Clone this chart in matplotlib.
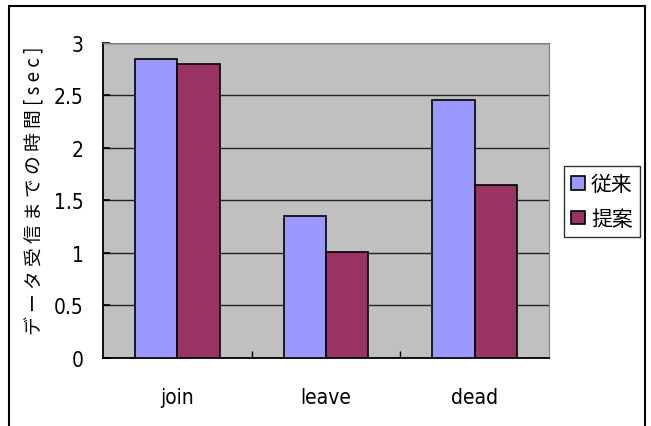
import numpy as np
import matplotlib.pyplot as plt
from matplotlib.patches import Rectangle

plt.rcParams['font.family'] = ['DejaVu Sans', 'Noto Sans CJK JP']
plt.rcParams['font.stretch'] = 'condensed'

categories = ['join', 'leave', 'dead']
conventional = [2.85, 1.35, 2.46]   # 従来
proposed = [2.80, 1.01, 1.65]       # 提案
yticks = [0, 0.5, 1, 1.5, 2, 2.5, 3]
ytick_labels = ['0', '0.5', '1', '1.5', '2', '2.5', '3']

fig = plt.figure(figsize=(6.51, 4.27), dpi=100)
ax = fig.add_axes([0.1582, 0.1593, 0.6851, 0.7377])

x = np.arange(len(categories))
w = 1 / 3.5
ax.bar(x - w / 2, conventional, w, color='#9999FF', edgecolor='black', linewidth=1.2, label='従来', zorder=3)
ax.bar(x + w / 2, proposed, w, color='#993366', edgecolor='black', linewidth=1.2, label='提案', zorder=3)

ax.set_facecolor('#C0C0C0')
ax.set_xlim(-0.5, 2.5)
ax.set_ylim(0, 3)
ax.set_yticks(yticks)
ax.set_yticklabels(ytick_labels, fontsize=15)
ax.yaxis.grid(True, color='#222222', linewidth=1, zorder=1)

# category labels centred, tick marks on group boundaries
ax.set_xticks(x)
ax.set_xticklabels(categories, fontsize=15)
ax.tick_params(axis='x', length=0, pad=21)
ax.set_xticks([0.5, 1.5], minor=True)
ax.tick_params(axis='x', which='minor', direction='in', length=5, width=1)
ax.tick_params(axis='y', direction='in', length=5, width=1.2, pad=14)

for side in ['top', 'right']:
    ax.spines[side].set_color('#808080')
for side in ['left', 'bottom']:
    ax.spines[side].set_color('black')
    ax.spines[side].set_linewidth(1.3)

fig.text(0.052, 1 - 191 / 427, 'デ ー タ 受 信 ま で の 時 間 [ s e c ]', rotation=90,
         ha='center', va='center', fontsize=13.5,
         family=['Noto Sans CJK JP', 'DejaVu Sans'])

leg = fig.legend(loc='upper left', bbox_to_anchor=(564 / 651, 1 - 167 / 427),
                 prop={'family': ['Noto Sans CJK JP'], 'size': 15},
                 frameon=True, fancybox=False, edgecolor='black',
                 handlelength=0.65, handleheight=0.65, handletextpad=0.3,
                 borderpad=0.35, labelspacing=0.6, borderaxespad=0)
leg.get_frame().set_linewidth(1)

# outer chart frame
fig.patches.append(Rectangle((9 / 651, -0.05), 636 / 651, 1.05 - 7 / 427,
                             transform=fig.transFigure, fill=False,
                             edgecolor='black', linewidth=1.5))

fig.savefig('out.png', dpi=100)
